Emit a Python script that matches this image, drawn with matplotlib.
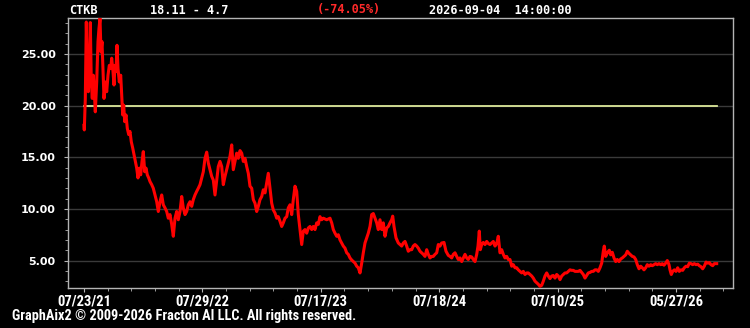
import matplotlib
matplotlib.use("Agg")
import matplotlib.pyplot as plt
from matplotlib.ticker import FixedLocator, MultipleLocator, FormatStrFormatter

# ---- data ----
symbol = "CTKB"
first_price = 18.11
last_price = 4.7
change_text = "(-74.05%)"
stamp = "2026-09-04  14:00:00"
ref_level = 20.0

# bar position (sample index along the time axis) and price, in five stretches
bar_2021 = [0, 0.3, 1.3, 2.3, 3.3, 4.3, 5.3, 6.3, 7.3, 8.3,
            9.3, 10.3, 11.3, 12.7, 14, 15, 16, 17, 18, 19,
            20, 21.3, 22.7, 24, 25.3, 26.7, 27.7, 29, 30, 31,
            32, 33, 34, 35.3, 36.7, 37.7, 38.7, 39.7, 40.7, 42,
            43.3, 44.7, 46, 47.3, 48.7, 50, 51.3, 52.7, 54, 55.3,
            56.7, 58, 59.3, 60.7, 62, 63.3, 64.7, 66, 67.7, 69.3,
            71, 72.7, 74.3, 76, 77.7, 79.3, 81, 82.7, 84.3, 86,
            87.7, 89.3, 91, 92.7, 94.3, 96, 97.7, 99.3, 101, 102.7,
            104.3, 106, 107.7, 109.3, 111, 112.7, 114.3, 116, 117.7, 119.3,
            121, 122.7]
price_2021 = [18.1, 17.65, 20.7, 28.1, 23.9, 21.35, 22.95, 28.05, 22.3, 20.7,
              22.95, 21.35, 19.4, 22.3, 26.2, 27.5, 28.45, 25.2, 26.2, 23.3,
              20.7, 22.3, 21.35, 22.95, 23.9, 23.6, 24.6, 23.3, 22.0, 23.9,
              23.3, 25.85, 23.6, 22.3, 22.95, 21.0, 19.1, 20.05, 18.45, 19.1,
              17.8, 17.2, 17.5, 16.5, 15.9, 15.25, 14.6, 13.95, 13.0, 13.95,
              13.3, 14.6, 15.55, 13.6, 13.95, 13.3, 13.0, 12.65, 12.35, 12.0,
              11.35, 10.7, 9.75, 10.7, 11.35, 10.4, 10.1, 9.75, 9.1, 9.45,
              8.5, 7.35, 9.1, 9.75, 8.95, 9.75, 11.2, 10.1, 9.45, 9.75,
              10.4, 10.7, 10.25, 10.9, 11.35, 11.7, 12.0, 12.35, 13.0, 13.6,
              14.9, 15.5]

bar_2022 = [124.3, 126, 127.7, 129.3, 131, 132.7, 134.3, 136, 137.7, 139.3,
            141, 142.7, 144.3, 146, 147.7, 149.3, 151, 152.7, 154.3, 156,
            157.7, 159.3, 161, 162.7, 164.3, 166, 167.7, 169.3, 171, 172.7,
            174.3, 176, 177.7, 179.3, 181, 182.7, 184.3, 186, 187.7, 189.3,
            191, 192.7, 194.3, 196, 197.7, 199.3, 201, 202.7, 204.3, 206,
            207.7, 209.3, 211, 212.7, 214.3, 216, 217.7, 219.3, 221, 222.7,
            224.3, 226, 227.7, 229.3, 231, 232.7, 234.3, 236, 237.7, 239.3,
            242.7, 246]
price_2022 = [14.45, 13.8, 13.15, 12.8, 11.35, 12.8, 14.1, 14.6, 14.1, 12.35,
              13.15, 13.8, 14.45, 15.1, 16.2, 13.8, 14.6, 15.4, 14.9, 15.65,
              15.4, 14.6, 14.9, 14.1, 13.45, 12.2, 12.0, 10.9, 10.55, 9.75,
              10.25, 10.9, 11.2, 11.85, 11.55, 12.5, 13.45, 12.0, 10.55, 9.9,
              9.6, 9.1, 9.25, 8.8, 8.3, 8.65, 9.1, 9.25, 10.1, 10.4,
              9.45, 10.9, 12.2, 11.7, 9.45, 8.0, 6.55, 7.85, 8.0, 7.65,
              8.15, 8.3, 8.0, 8.3, 8.0, 8.65, 8.5, 9.25, 8.95, 9.1,
              8.95, 9.1]

bar_2023 = [247.7, 249.3, 251, 252.7, 254.3, 256, 257.7, 259.3, 261, 262.7,
            264.3, 266, 267.7, 269.3, 271, 272.7, 274.3, 276, 277.7, 279.3,
            281, 282.7, 284.3, 286, 287.7, 289.3, 291, 292.7, 294.3, 296,
            297.7, 299.3, 301, 302.7, 304.3, 306, 307.7, 308.7, 310, 312,
            314.3, 316, 317.7, 319.3, 321, 322.7, 324.3, 326, 327.7, 329.3,
            331, 332.7, 334.3, 336, 337.7, 339.3, 341, 342.7, 344.3, 346,
            347.7, 349.3, 351, 352.7, 354.3, 356, 357.7, 360, 362, 364.3]
price_2023 = [8.65, 8.0, 7.65, 7.35, 7.5, 7.0, 6.7, 6.4, 6.2, 5.75,
              5.6, 5.25, 5.05, 4.9, 4.75, 4.45, 4.3, 3.8, 4.75, 5.75,
              6.7, 7.2, 7.65, 8.3, 9.45, 9.55, 9.1, 8.65, 8.0, 8.95,
              8.0, 8.65, 7.35, 8.15, 8.3, 8.65, 8.95, 9.3, 8.3, 7.2,
              6.7, 6.55, 6.4, 6.7, 6.85, 6.4, 5.9, 6.05, 6.05, 6.4,
              6.55, 6.4, 6.2, 5.9, 5.75, 5.6, 5.4, 6.05, 5.6, 5.25,
              5.4, 5.4, 5.6, 5.75, 6.55, 6.4, 6.7, 6.75, 5.9, 5.5]

bar_2024 = [366, 367.7, 369.3, 371, 372.7, 374.3, 376, 377.7, 379.3, 381,
            382.7, 384.3, 386, 387.7, 389.3, 391, 392.7, 394, 395.3, 396.3,
            397.7, 399.3, 401, 402.7, 404.3, 406, 407.7, 409.3, 411, 412.7,
            414.3, 416, 417.7, 419.3, 421, 422.7, 424.3, 426, 427.7, 429.3,
            431, 432.7, 434.3, 436, 437.7, 439.3, 441, 442.7, 444.3, 446,
            447.7, 449.3, 451, 452.7, 454.3, 456, 457.7, 459.3, 461, 462.7,
            464.3, 466, 467.7, 469.3, 471, 472.7, 474.3, 476, 477.7, 479.3,
            481, 482.7, 484.3, 486, 487.7, 489.3, 491, 492.7]
price_2024 = [5.4, 5.25, 5.6, 5.75, 5.4, 5.1, 5.25, 4.9, 5.25, 5.6,
              5.25, 5.1, 5.4, 5.35, 5.1, 4.9, 5.6, 6.4, 7.85, 6.05,
              6.55, 6.75, 6.55, 6.85, 6.65, 6.55, 6.7, 6.85, 6.4, 6.65,
              7.35, 5.75, 6.05, 5.6, 5.25, 5.4, 5.1, 5.1, 4.45, 4.6,
              4.3, 4.3, 4.1, 3.95, 3.8, 3.95, 3.65, 3.8, 3.8, 3.65,
              3.5, 3.3, 3.0, 2.85, 2.7, 2.5, 2.6, 3.0, 3.5, 3.8,
              3.5, 3.25, 3.5, 3.55, 3.3, 3.65, 3.5, 3.15, 3.5, 3.65,
              3.8, 3.8, 3.95, 4.1, 4.05, 4.05, 3.95, 3.95]

bar_2025 = [494.3, 496, 497.7, 499.3, 501, 502.7, 504.3, 506, 507.7, 509.3,
            511, 512.7, 514.3, 516, 517.7, 519.3, 520.3, 521.7, 523.3, 525.3,
            526.7, 528.3, 530, 531.7, 533.3, 535, 536.7, 538.3, 540, 541.7,
            543.3, 545, 546.7, 548.3, 550, 551.7, 553.3, 555, 556.7, 558.3,
            560, 561.7, 563.3, 565, 566.7, 568.3, 570, 571.7, 573.3, 575,
            576.7, 578.3, 580, 581.7, 583.3, 585, 586, 587.3, 588.7, 590.3,
            592, 593.7, 595.3, 597, 598.7, 600.3, 602, 603.7, 605.3, 607,
            608.7, 610.3, 612, 613.7, 615.3, 617, 618.7, 620.3, 622, 623.7,
            625.3, 627, 628.7, 630.3, 632.7]
price_2025 = [3.95, 4.05, 3.85, 3.65, 3.3, 3.55, 3.8, 3.85, 3.95, 3.95,
              4.1, 4.1, 3.95, 4.3, 4.75, 5.9, 6.4, 5.4, 5.75, 6.0,
              5.55, 5.8, 5.25, 4.9, 5.1, 4.9, 5.15, 5.25, 5.4, 5.55,
              5.9, 5.7, 5.55, 5.4, 5.35, 5.1, 4.6, 4.2, 4.45, 4.3,
              4.1, 4.3, 4.6, 4.45, 4.6, 4.5, 4.6, 4.7, 4.6, 4.7,
              4.6, 4.7, 4.55, 4.75, 5.0, 4.6, 4.1, 3.65, 3.95, 4.1,
              3.95, 4.3, 3.95, 4.1, 4.05, 4.3, 4.45, 4.4, 4.75, 4.7,
              4.6, 4.7, 4.6, 4.65, 4.5, 4.4, 4.2, 4.45, 4.85, 4.75,
              4.8, 4.6, 4.5, 4.7, 4.7]

tick_bars = [0, 118.4, 236.8, 355.2, 473.6, 592.0]
tick_labels = ["07/23/21", "07/29/22", "07/17/23", "07/18/24", "07/10/25", "05/27/26"]
y_ticks = [5, 10, 15, 20, 25]
footer = "GraphAix2 \u00a9 2009-2026 Fracton AI LLC. All rights reserved."

bar = bar_2021 + bar_2022 + bar_2023 + bar_2024 + bar_2025
price = price_2021 + price_2022 + price_2023 + price_2024 + price_2025
n = min(len(bar), len(price))
bar, price = bar[:n], price[:n]

NARROW = ["Roboto Condensed", "Archivo Narrow", "Arimo", "DejaVu Sans"]

# ---- figure ----
fig = plt.figure(figsize=(7.5, 3.28), dpi=100, facecolor="black")
ax = fig.add_axes([68 / 750, 1 - 288 / 328, (733 - 68) / 750, (288 - 18) / 328])
ax.set_facecolor("black")

ax.set_xlim(-16, 649)
ax.set_ylim(2.34, 28.49)

for yv in y_ticks:
    ax.axhline(yv, color="#3a3a3a", lw=1.0, zorder=1)

ax.plot([bar[0], bar[-1]], [ref_level, ref_level], color="#dce89a", lw=1.3, zorder=2)
ax.plot(bar, price, color="#ff0000", lw=2.2, solid_joinstyle="round", zorder=3)

for s in ax.spines.values():
    s.set_color("#b4b4b4")
    s.set_linewidth(1.0)

ax.yaxis.set_major_locator(FixedLocator(y_ticks))
ax.yaxis.set_minor_locator(MultipleLocator(1.0))
ax.yaxis.set_major_formatter(FormatStrFormatter("%.2f"))
ax.xaxis.set_major_locator(FixedLocator(tick_bars))
ax.xaxis.set_minor_locator(MultipleLocator(118.4 / 5))
ax.set_xticklabels(tick_labels)

ax.tick_params(axis="y", which="major", direction="out", length=3, width=0.8,
               color="#b4b4b4", labelcolor="white", labelsize=8, pad=6)
ax.tick_params(axis="y", which="minor", direction="out", length=2, width=0.6, color="#b4b4b4")
ax.tick_params(axis="x", which="major", direction="out", length=3, width=0.8,
               color="#b4b4b4", labelcolor="white", labelsize=10.5, pad=1.5)
ax.tick_params(axis="x", which="minor", direction="out", length=2, width=0.6, color="#b4b4b4")
for lab in ax.get_yticklabels():
    lab.set_fontweight("bold")
    lab.set_family("DejaVu Sans")
for lab in ax.get_xticklabels():
    lab.set_fontweight("bold")
    lab.set_family(NARROW)

hdr = dict(color="white", fontsize=8.6, family="DejaVu Sans Mono", fontweight="bold",
           va="center", ha="left")
fig.text(69 / 750, 1 - 10 / 328, symbol, **hdr)
fig.text(150 / 750, 1 - 10 / 328, f"{first_price:.2f} - {last_price}", **hdr)
fig.text(317 / 750, 1 - 10 / 328, change_text, **{**hdr, "color": "#ff2a2a"})
fig.text(429 / 750, 1 - 10 / 328, stamp, **hdr)

fig.text(12 / 750, 1 - 316 / 328, footer, color="white", fontsize=10.3, fontweight="bold",
         family=NARROW, va="center", ha="left")

fig.savefig("out.png", dpi=100, facecolor="black")
